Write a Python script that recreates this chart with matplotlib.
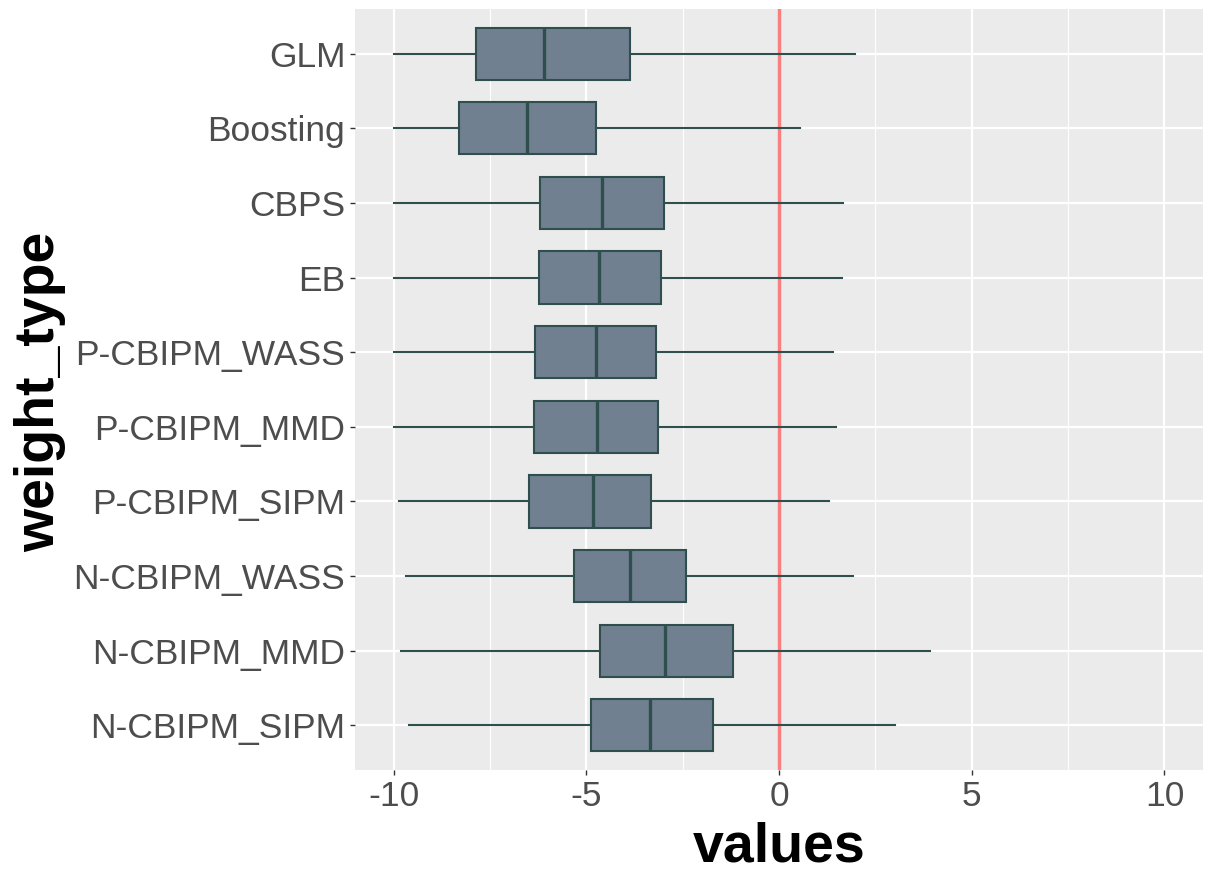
import matplotlib
matplotlib.use("Agg")
import matplotlib.pyplot as plt
from matplotlib.ticker import MultipleLocator

plt.rcParams['font.family'] = ['Liberation Sans', 'DejaVu Sans']

# categories from top to bottom as displayed
categories = ["GLM", "Boosting", "CBPS", "EB", "P-CBIPM_WASS", "P-CBIPM_MMD",
              "P-CBIPM_SIPM", "N-CBIPM_WASS", "N-CBIPM_MMD", "N-CBIPM_SIPM"]
whisker_low = [-10.0, -10.0, -10.0, -10.0, -10.0, -10.0, -9.87, -9.68, -9.80, -9.60]
q1 = [-7.86, -8.30, -6.20, -6.23, -6.33, -6.36, -6.48, -5.32, -4.64, -4.88]
median = [-6.10, -6.54, -4.59, -4.67, -4.74, -4.72, -4.82, -3.87, -2.96, -3.34]
q3 = [-3.86, -4.76, -2.98, -3.06, -3.20, -3.15, -3.31, -2.40, -1.19, -1.71]
whisker_high = [1.96, 0.55, 1.66, 1.63, 1.39, 1.47, 1.31, 1.93, 3.93, 3.00]
x_ticks = [-10, -5, 0, 5, 10]
ref_value = 0

W, H, DPI = 1215, 883, 100
fig = plt.figure(figsize=(W / DPI, H / DPI), dpi=DPI)
ax = fig.add_axes([355 / W, 1 - 770 / H, (1203 - 355) / W, (770 - 9) / H])
ax.set_facecolor('#EBEBEB')
for s in ax.spines.values():
    s.set_visible(False)

n = len(categories)
positions = list(range(n, 0, -1))

stats = []
for i in range(n):
    stats.append(dict(whislo=whisker_low[i], q1=q1[i], med=median[i],
                      q3=q3[i], whishi=whisker_high[i], fliers=[]))

ax.axvline(ref_value, color='#FA8080', lw=2.5, zorder=2)

edge = '#2F4F4F'
ax.bxp(stats, positions=positions, vert=False, widths=0.7, patch_artist=True,
       showcaps=False, showfliers=False,
       boxprops=dict(facecolor='#708090', edgecolor=edge, linewidth=1.5),
       whiskerprops=dict(color=edge, linewidth=1.5),
       medianprops=dict(color=edge, linewidth=2.4),
       zorder=3)

ax.set_xlim(-11, 11)
ax.set_ylim(0.4, n + 0.6)
ax.set_xticks(x_ticks)
ax.set_xticklabels([str(v) for v in x_ticks])
ax.xaxis.set_minor_locator(MultipleLocator(2.5))
ax.set_yticks(positions)
ax.set_yticklabels(categories)

ax.grid(which='major', color='white', linewidth=1.6, zorder=0)
ax.grid(which='minor', axis='x', color='white', linewidth=0.8, zorder=0)
ax.set_axisbelow(True)

ax.tick_params(axis='both', which='major', length=3.8, width=1.0, color='#333333',
               labelsize=25.5, labelcolor='#4D4D4D', pad=3.2)
ax.tick_params(axis='both', which='minor', length=0)

fig.text(779 / W, 1 - 861 / H, 'values', ha='center', va='baseline',
         fontsize=40, fontweight='bold', color='black')
fig.text(54 / W, 1 - 392 / H, 'weight_type', ha='center', va='baseline',
         rotation=90, rotation_mode='anchor',
         fontsize=40, fontweight='bold', color='black')

fig.savefig('out.png', dpi=DPI, facecolor='white')
